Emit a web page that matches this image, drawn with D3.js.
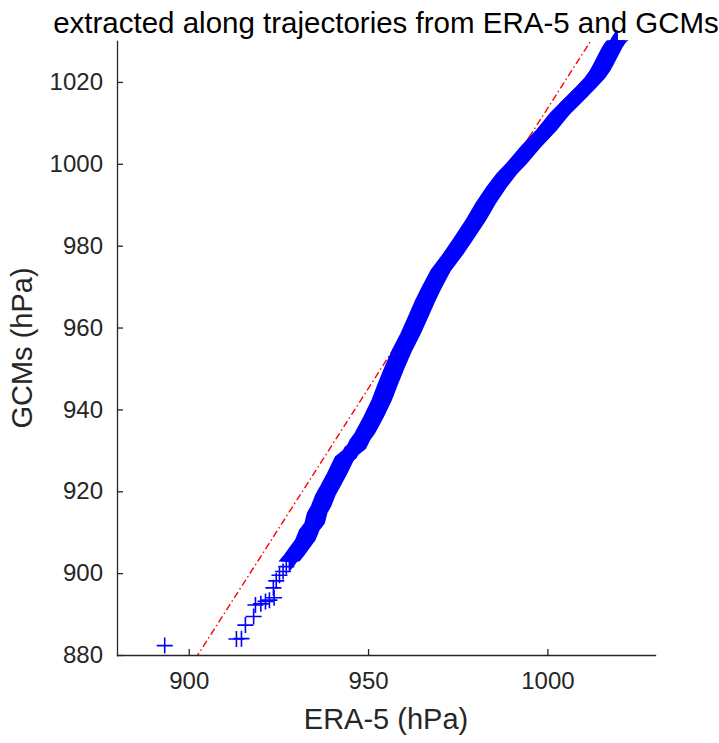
<!DOCTYPE html>
<html>
<head>
<meta charset="utf-8">
<title>Q-Q plot ERA-5 vs GCMs</title>
<script src="https://cdn.jsdelivr.net/npm/d3@7"></script>
<style>
    body { margin: 0; background: #fff; }
    svg { display: block; font-family: "Liberation Sans", Arial, Helvetica, sans-serif; }
    .axis text { fill: #262626; font-size: 24px; }
    .axis path, .axis line { stroke: #262626; stroke-width: 1.3px; }
</style>
</head>
<body>
<div id="chartcontainer"></div>
<script>
/**
 * Quantile-quantile plot of pressure extracted along trajectories
 */

/*global d3 */

// Sorted sample quantiles (hPa)
var era5Quantiles = [893.3, 913.3, 914.7, 915.8, 918.1, 918.6, 920.1, 921.4, 922.5, 923.8,
    923.6, 924.4, 925.3, 926.3, 927.2, 928.1, 929.4, 930.8, 932.5, 933.6,
    935.1, 935.8, 936.9, 938.1, 939.2, 941.4, 943.6, 946.6, 947.7, 949.1,
    951.5, 953.8, 955.6, 957.4, 959.5, 961.9, 963.9, 966.0, 967.8, 970.3,
    973.9, 976.9, 980.0, 982.8, 985.8, 988.6, 991.4, 995.3, 999.7, 1003.6,
    1008.1, 1010.8, 1013.3, 1014.7, 1015.8, 1016.9, 1018.1, 1019.0, 1019.4];

var gcmQuantiles = [882.3, 883.9, 884.0, 887.3, 889.4, 892.2, 892.5, 893.1, 893.4, 894.0,
    896.4, 898.1, 899.5, 900.4, 901.6, 903.0, 904.4, 906.1, 908.1, 910.5,
    912.2, 914.7, 916.4, 919.1, 920.8, 924.4, 928.4, 930.5, 932.5, 934.2,
    938.1, 942.3, 946.4, 950.3, 954.5, 958.6, 962.5, 966.7, 969.9, 974.0,
    978.2, 982.1, 986.2, 990.4, 994.3, 997.5, 1000.1, 1004.1, 1008.2, 1012.4,
    1016.3, 1018.7, 1021.1, 1022.8, 1024.6, 1026.5, 1028.5, 1029.7, 1030.0];

// First and third quartiles of both samples (reference line)
var quartilesEra5 = [956.7, 994.9],
    quartilesGcm = [954.2, 1006.5];

var xTicks = [900, 950, 1000],
    yTicks = [880, 900, 920, 940, 960, 980, 1000, 1020],
    xLimits = [880, 1030],
    yLimits = [880, 1030];

var titleText = "extracted along trajectories from ERA-5 and GCMs",
    xLabelText = "ERA-5 (hPa)",
    yLabelText = "GCMs (hPa)";

function QQPlot() {

    var width = 719,
        height = 743,
        box = { left: 117, right: 655, top: 41, bottom: 655 },
        arm = 8,            // half length of "+" marker
        bandArm = 9.5,      // half width of the merged markers (points scatter a bit)
        denseFrom = 15;     // from here on markers merge into a solid band

    var blue = "#0000ff",
        red = "#ff0000",
        ink = "#262626";

    var x = d3.scaleLinear().domain(xLimits).range([box.left, box.right]),
        y = d3.scaleLinear().domain(yLimits).range([box.bottom, box.top]),
        svg;

    var points = era5Quantiles.map(function (v, i) {
        return { x: v, y: gcmQuantiles[i] };
    });

    function prepareSvg() {
        svg = d3.select("#chartcontainer")
            .append("svg")
            .attr("width", width)
            .attr("height", height);

        svg.append("defs").append("clipPath").attr("id", "plotclip")
            .append("rect")
            .attr("x", box.left)
            .attr("y", box.top)
            .attr("width", box.right - box.left)
            .attr("height", box.bottom - box.top);
    }

    /**
     * Line through the quartile points, solid between them and dash-dot outside
     */
    function drawReferenceLine() {
        var slope = (quartilesGcm[1] - quartilesGcm[0]) / (quartilesEra5[1] - quartilesEra5[0]),
            at = function (xv) { return quartilesGcm[0] + slope * (xv - quartilesEra5[0]); },
            g = svg.append("g").attr("clip-path", "url(#plotclip)");

        var segments = [
            { x0: xLimits[0], x1: quartilesEra5[0], dash: "7,3,1.5,3" },
            { x0: quartilesEra5[0], x1: quartilesEra5[1], dash: null },
            { x0: quartilesEra5[1], x1: xLimits[1], dash: "7,3,1.5,3" }
        ];

        g.selectAll("line")
            .data(segments)
            .enter().append("line")
            .attr("x1", function (d) { return x(d.x0); })
            .attr("y1", function (d) { return y(at(d.x0)); })
            .attr("x2", function (d) { return x(d.x1); })
            .attr("y2", function (d) { return y(at(d.x1)); })
            .attr("stroke", red)
            .attr("stroke-width", 1.4)
            .attr("stroke-dasharray", function (d) { return d.dash; });
    }

    function drawQuantiles() {
        var dense = points.slice(denseFrom),
            g = svg.append("g");

        // horizontal and vertical arms of the "+" swept along the dense part
        var hSweep = d3.area()
            .y(function (d) { return y(d.y); })
            .x0(function (d) { return x(d.x) - bandArm; })
            .x1(function (d) { return x(d.x) + bandArm; });
        var vSweep = d3.area()
            .x(function (d) { return x(d.x); })
            .y0(function (d) { return y(d.y) + bandArm; })
            .y1(function (d) { return y(d.y) - bandArm; });

        g.append("path").attr("d", hSweep(dense))
            .attr("fill", blue).attr("stroke", blue).attr("stroke-width", 1.5);
        g.append("path").attr("d", vSweep(dense))
            .attr("fill", blue).attr("stroke", blue).attr("stroke-width", 1.5);

        g.selectAll("path.marker")
            .data(points)
            .enter().append("path")
            .attr("class", "marker")
            .attr("d", "M" + (-arm) + ",0H" + arm + "M0," + (-arm) + "V" + arm)
            .attr("transform", function (d) {
                return "translate(" + x(d.x) + "," + y(d.y) + ")";
            })
            .attr("fill", "none")
            .attr("stroke", blue)
            .attr("stroke-width", 1.6);
    }

    function drawAxes() {
        var xAxis = d3.axisBottom(x).tickValues(xTicks)
            .tickSizeInner(-6).tickSizeOuter(0).tickPadding(17)
            .tickFormat(d3.format("d"));
        var yAxis = d3.axisLeft(y).tickValues(yTicks)
            .tickSizeInner(-6).tickSizeOuter(0).tickPadding(14)
            .tickFormat(d3.format("d"));

        svg.append("g").attr("class", "axis")
            .attr("transform", "translate(0," + box.bottom + ")")
            .call(xAxis);
        svg.append("g").attr("class", "axis")
            .attr("transform", "translate(" + box.left + ",0)")
            .call(yAxis);

        svg.selectAll(".axis .domain").attr("stroke-linecap", "square");

        svg.append("text")
            .attr("x", (box.left + box.right) / 2)
            .attr("y", 729)
            .attr("text-anchor", "middle")
            .attr("fill", ink)
            .style("font-size", "29px")
            .text(xLabelText);

        svg.append("text")
            .attr("transform", "translate(32," + ((box.top + box.bottom) / 2) + ") rotate(-90)")
            .attr("text-anchor", "middle")
            .attr("fill", ink)
            .style("font-size", "29px")
            .text(yLabelText);

        svg.append("text")
            .attr("x", (box.left + box.right) / 2)
            .attr("y", 33)
            .attr("text-anchor", "middle")
            .attr("fill", "#000")
            .style("font-size", "29.5px")
            .text(titleText);
    }

    function init() {
        prepareSvg();
        drawReferenceLine();
        drawQuantiles();
        drawAxes();
    }

    init();
}

QQPlot();
</script>
</body>
</html>
